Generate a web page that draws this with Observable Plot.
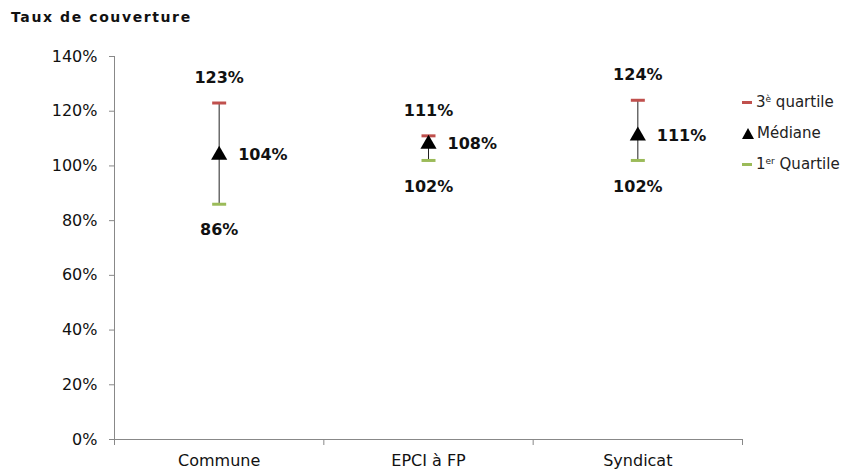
<!DOCTYPE html>
<html>
<head>
<meta charset="utf-8">
<script src="https://cdn.jsdelivr.net/npm/d3@7"></script>
<script src="https://cdn.jsdelivr.net/npm/@observablehq/plot@0.6"></script>
<style>
  body { margin: 0; background: #fff; }
  #wrap { position: relative; width: 851px; height: 470px; font-family: "DejaVu Sans", sans-serif; }
  #title { position: absolute; left: 11px; top: 9px; font-family: "DejaVu Sans", sans-serif;
           font-weight: 900; font-size: 14px; letter-spacing: 1.6px; color: #111; }
  #legend { position: absolute; left: 742px; top: 87px; font-size: 15px; color: #222; line-height: 31px; }
  #legend .row { display: flex; align-items: center; white-space: nowrap; }
  #legend .dash { display: inline-block; width: 10px; height: 3px; margin-right: 4px; }
  #legend .tri { display: inline-block; width: 0; height: 0; border-left: 6px solid transparent; border-right: 6px solid transparent;
                 border-bottom: 11px solid #000; margin-right: 3px; }
  #legend sup { font-size: 9px; vertical-align: 5px; line-height: 0; }
</style>
</head>
<body>
<div id="wrap">
  <div id="title">Taux de couverture</div>
  <div id="legend">
    <div class="row"><span class="dash" style="background:#c0504d"></span><span>3<sup>è</sup> quartile</span></div>
    <div class="row"><span class="tri"></span><span>Médiane</span></div>
    <div class="row"><span class="dash" style="background:#9bbb59"></span><span>1<sup>er</sup> Quartile</span></div>
  </div>
</div>
<script>
// Catégories et quartiles du taux de couverture (en %)
const categories = ["Commune", "EPCI à FP", "Syndicat"];
const q1 = [86, 102, 102];
const median = [104, 108, 111];
const q3 = [123, 111, 124];
const yTicks = [0, 20, 40, 60, 80, 100, 120, 140];

const data = categories.map((c, i) => ({ cat: c, pos: i + 0.5, q1: q1[i], med: median[i], q3: q3[i] }));

// Horizontal dash used for the quartile markers
const dash = {
  draw(context, size) {
    const w = Math.sqrt(size / Math.PI);
    context.moveTo(-w, 0);
    context.lineTo(w, 0);
  }
};

const chart = Plot.plot({
  width: 851,
  height: 470,
  marginLeft: 114,
  marginRight: 109,
  marginTop: 56,
  marginBottom: 31,
  style: { fontFamily: "DejaVu Sans, sans-serif", color: "#111", background: "transparent" },
  x: { domain: [0, categories.length], label: null },
  y: { domain: [0, 140], label: null },
  marks: [
    Plot.axisY({ ticks: yTicks, tickFormat: d => d + "%", tickSize: 5, tickPadding: 12, fontSize: 16, stroke: "#888", color: "#111", label: null }),
    Plot.axisX({ ticks: d3.range(categories.length + 1), tickFormat: () => "", tickSize: 6, stroke: "#888", label: null }),
    Plot.axisX({ ticks: data.map(d => d.pos), tickFormat: p => categories[Math.floor(p)], tickSize: 0, tickPadding: 15,
                 fontSize: 16, color: "#111", label: null }),
    Plot.ruleY([0], { stroke: "#888" }),
    Plot.ruleX([0], { stroke: "#888" }),
    // whisker from 1st to 3rd quartile
    Plot.ruleX(data, { x: "pos", y1: "q1", y2: "q3", stroke: "#222", strokeWidth: 1 }),
    Plot.dot(data, { x: "pos", y: "q3", symbol: dash, r: 7, stroke: "#c0504d", strokeWidth: 3, fill: "none" }),
    Plot.dot(data, { x: "pos", y: "q1", symbol: dash, r: 7, stroke: "#9bbb59", strokeWidth: 3, fill: "none" }),
    Plot.dot(data, { x: "pos", y: "med", symbol: "triangle", r: 6, fill: "#000", stroke: "none" }),
    Plot.text(data, { x: "pos", y: "q3", text: d => d.q3 + "%", dy: -25, fontSize: 16, fontWeight: "bold", fill: "#111" }),
    Plot.text(data, { x: "pos", y: "q1", text: d => d.q1 + "%", dy: 26, fontSize: 16, fontWeight: "bold", fill: "#111" }),
    Plot.text(data, { x: "pos", y: "med", text: d => d.med + "%", dx: 19, textAnchor: "start", fontSize: 16, fontWeight: "bold", fill: "#111" })
  ]
});
chart.style.position = "absolute";
chart.style.left = "0";
chart.style.top = "0";
document.getElementById("wrap").prepend(chart);
</script>
</body>
</html>
